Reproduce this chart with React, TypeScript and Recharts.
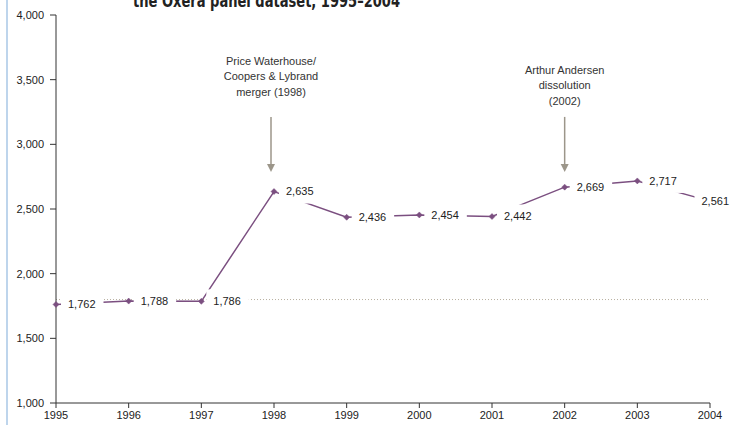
import React from "react";
import { LineChart, Line, XAxis, YAxis, ReferenceLine, LabelList } from "recharts";

const years = [1995, 1996, 1997, 1998, 1999, 2000, 2001, 2002, 2003, 2004];
const values = [1762, 1788, 1786, 2635, 2436, 2454, 2442, 2669, 2717, 2561];
const yTicks = [1000, 1500, 2000, 2500, 3000, 3500, 4000];
const referenceValue = 1800;
const titleText = "the Oxera panel dataset, 1995\u20132004";

const annotations = [
  { year: 1998, lines: ["Price Waterhouse/", "Coopers & Lybrand", "merger (1998)"], gap: 25, dx: -3 },
  { year: 2002, lines: ["Arthur Andersen", "dissolution", "(2002)"], gap: 16, dx: 0 },
];
const arrowTopValue = 3212;
const arrowTipValue = 2787;

const data = years.map((y, i) => ({ year: y, value: values[i] }));

const W = 732;
const H = 425;
const LINE_COLOR = "#7b4f80";
const FONT = "'Liberation Sans', Arial, sans-serif";

const fmt = (v: number) => v.toLocaleString("en-US");

const Diamond = (props: any) => {
  const { cx, cy } = props;
  if (cx == null || cy == null) return null;
  const s = 3;
  return (
    <path
      d={`M${cx},${cy - s} L${cx + s},${cy} L${cx},${cy + s} L${cx - s},${cy} Z`}
      fill={LINE_COLOR}
      stroke={LINE_COLOR}
      strokeWidth={0.5}
    />
  );
};

const ValueLabel = (props: any) => {
  const { x, y, value } = props;
  if (x == null || y == null) return null;
  const text = fmt(Number(value));
  const w = text.length * 5.7;
  let tx = x + 12;
  if (tx + w > W - 2) tx = W - 2 - w;
  const cy = y + 0;
  return (
    <g>
      <rect x={tx - 7} y={cy - 12} width={w + 14} height={24} fill="#ffffff" />
      <text x={tx} y={cy} dy="0.35em" fontSize={11} fontFamily={FONT} fill="#222">
        {text}
      </text>
    </g>
  );
};

const makeArrow = (a: typeof annotations[number]) => (props: any) => {
  const { x1, y1, x2, y2 } = props;
  if (x1 == null) return null;
  const x = x1 + a.dx;
  const top = Math.min(y1, y2);
  const tip = Math.max(y1, y2);
  const lh = 15.5;
  const lastY = top - a.gap;
  return (
    <g>
      <line x1={x} y1={top} x2={x} y2={tip - 6} stroke="#9c968a" strokeWidth={1.5} />
      <path d={`M${x - 4},${tip - 8} L${x + 4},${tip - 8} L${x},${tip} Z`} fill="#9c968a" />
      {a.lines.map((t, i) => (
        <text
          key={i}
          x={x}
          y={lastY - (a.lines.length - 1 - i) * lh}
          dy="0.35em"
          textAnchor="middle"
          fontSize={11}
          fontFamily={FONT}
          fill="#333"
        >
          {t}
        </text>
      ))}
    </g>
  );
};

export default function App() {
  return (
    <div style={{ position: "absolute", left: 0, top: 0, width: W, height: H, background: "#fff" }}>
      <svg width={W} height={H} style={{ position: "absolute", left: 0, top: 0 }}>
        <line x1={7} y1={0} x2={7} y2={H} stroke="#a9c7e6" strokeWidth={1.5} />
        <text
          x={133}
          y={7}
          fontSize={17}
          fontWeight="bold"
          fontFamily="'DejaVu Sans', sans-serif"
          fill="#222"
          textLength={267}
          lengthAdjust="spacingAndGlyphs"
        >
          {titleText}
        </text>
      </svg>
      <div style={{ position: "absolute", left: 0, top: 0 }}>
        <LineChart width={W} height={H} data={data} margin={{ top: 15, right: 22, bottom: 0, left: 6 }}>
          <XAxis
            dataKey="year"
            type="number"
            domain={[1995, 2004]}
            ticks={years}
            interval={0}
            height={22}
            tickSize={5}
            tickMargin={3}
            stroke="#333"
            tick={{ fontSize: 11, fontFamily: FONT, fill: "#222" }}
            allowDecimals={false}
          />
          <YAxis
            domain={[1000, 4000]}
            ticks={yTicks}
            interval={0}
            width={50}
            tickSize={6}
            tickMargin={6}
            stroke="#333"
            tickFormatter={fmt}
            tick={{ fontSize: 11, fontFamily: FONT, fill: "#222" }}
            allowDataOverflow
          />
          <ReferenceLine y={referenceValue} stroke="#b8b0a0" strokeDasharray="1 2" strokeWidth={1} />
          {annotations.map((a) => (
            <ReferenceLine
              key={a.year}
              segment={[
                { x: a.year, y: arrowTopValue },
                { x: a.year, y: arrowTipValue },
              ]}
              shape={makeArrow(a)}
            />
          ))}
          <Line
            dataKey="value"
            stroke={LINE_COLOR}
            strokeWidth={1.5}
            dot={<Diamond />}
            activeDot={false}
            isAnimationActive={false}
          >
            <LabelList dataKey="value" content={<ValueLabel />} />
          </Line>
        </LineChart>
      </div>
    </div>
  );
}
